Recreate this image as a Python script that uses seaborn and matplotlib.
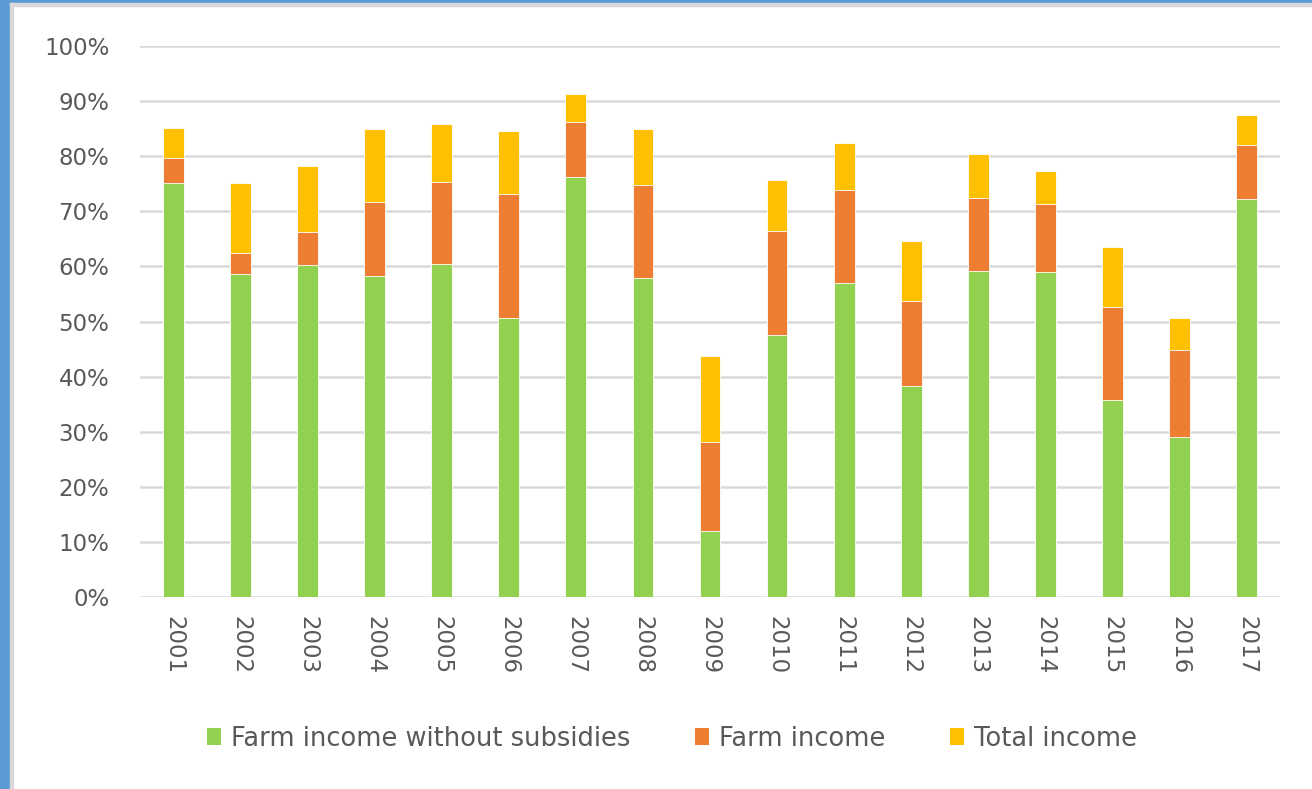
import numpy as np
import pandas as pd
import seaborn as sns
import matplotlib.pyplot as plt
from matplotlib.patches import Patch, Rectangle
from matplotlib.ticker import PercentFormatter

years = [str(y) for y in range(2001, 2018)]
# cumulative shares (top of each segment)
no_subsidies = [75.1, 58.6, 60.2, 58.3, 60.5, 50.6, 76.3, 57.9, 11.9, 47.5, 57.0, 38.3, 59.2, 58.9, 35.7, 29.1, 72.2]
farm_income = [79.6, 62.4, 66.2, 71.6, 75.4, 73.2, 86.2, 74.8, 28.2, 66.5, 73.9, 53.8, 72.5, 71.3, 52.6, 44.9, 82.1]
total_income = [85.2, 75.1, 78.2, 84.9, 85.8, 84.6, 91.2, 84.9, 43.7, 75.7, 82.4, 64.6, 80.4, 77.3, 63.6, 50.6, 87.4]

labels = ['Farm income without subsidies', 'Farm income', 'Total income']
colors = ['#92D050', '#ED7D31', '#FFC000']

df = pd.DataFrame({'year': years,
                   'no_sub': np.array(no_subsidies) / 100,
                   'farm': np.array(farm_income) / 100,
                   'total': np.array(total_income) / 100})

sns.set_style('white')
plt.rcParams['font.family'] = ['DejaVu Sans']
txt = '#595959'

fig = plt.figure(figsize=(13.12, 7.89), dpi=100)
ax = fig.add_axes([0.1067, 0.2433, 0.8689, 0.6984])

# draw tallest first so the stack shows through
for col, c in zip(['total', 'farm', 'no_sub'], colors[::-1]):
    sns.barplot(data=df, x='year', y=col, color=c, width=0.31, ax=ax,
                saturation=1, edgecolor='white', linewidth=0.6, zorder=3)

ax.set_ylim(0, 1)
ax.set_xlim(-0.5, 16.5)
ax.set_yticks(np.arange(0, 1.01, 0.1))
ax.yaxis.set_major_formatter(PercentFormatter(1.0, decimals=0))
ax.grid(axis='y', color='#D9D9D9', linewidth=1.8, zorder=0)
ax.set_axisbelow(True)
for s in ax.spines.values():
    s.set_visible(False)
ax.set_xlabel('')
ax.set_ylabel('')
ax.tick_params(axis='y', labelsize=16.5, colors=txt, length=0, pad=22)
ax.tick_params(axis='x', labelsize=16.5, colors=txt, length=0, pad=14)
plt.setp(ax.get_xticklabels(), rotation=-90)

handles = [Patch(facecolor=c, edgecolor='none') for c in colors]
fig.legend(handles, labels, loc='center', bbox_to_anchor=(0.512, 0.064),
           ncol=3, frameon=False, fontsize=18.5, labelcolor=txt,
           handlelength=0.55, handleheight=0.65, handletextpad=0.4,
           columnspacing=2.5)

# frame of the screenshot
fig.add_artist(Rectangle((0, 0), 0.0076, 1, transform=fig.transFigure,
                         color='#5B9BD5', zorder=10))
fig.add_artist(Rectangle((0, 0.9962), 1, 0.0038, transform=fig.transFigure,
                         color='#5B9BD5', zorder=10))
fig.add_artist(Rectangle((0.0076, 0), 0.002, 0.9962, transform=fig.transFigure,
                         color='#D9D9D9', zorder=10))
fig.add_artist(Rectangle((0.0076, 0.9925), 1, 0.0037, transform=fig.transFigure,
                         color='#D9D9D9', zorder=10))

fig.savefig('out.png', dpi=100)
